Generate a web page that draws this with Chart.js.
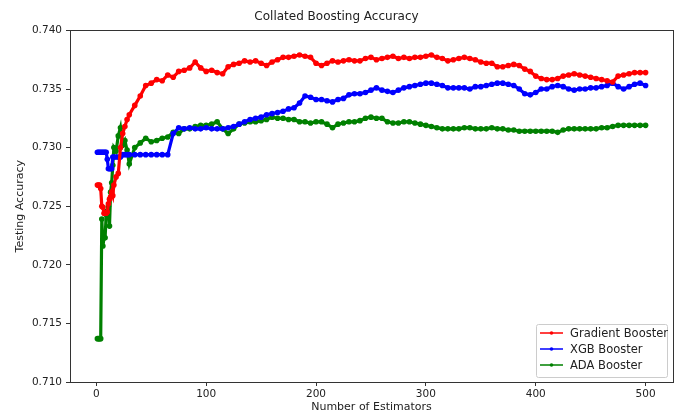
<!DOCTYPE html>
<html>
<head>
<meta charset="utf-8">
<script src="https://cdn.jsdelivr.net/npm/chart.js@4.4.1/dist/chart.umd.min.js"></script>
<style>
  html, body { margin: 0; padding: 0; background: #fff; }
  #wrap { width: 678px; height: 416px; }
</style>
</head>
<body>
<div id="wrap"><canvas id="boostChart" width="678" height="416"></canvas></div>
<script>
// number of estimators (x values)
const estimators = [
  1, 2, 3, 4, 5, 6, 7, 8, 9, 10, 11, 12, 13, 14, 15, 16, 18, 20, 22, 24, 26, 28, 30,
  35, 40, 45, 50, 55, 60, 65, 70, 75, 80, 85, 90, 95, 100,
  105, 110, 115, 120, 125, 130, 135, 140, 145, 150, 155, 160, 165, 170, 175, 180, 185, 190, 195, 200,
  205, 210, 215, 220, 225, 230, 235, 240, 245, 250, 255, 260, 265, 270, 275, 280, 285, 290, 295, 300,
  305, 310, 315, 320, 325, 330, 335, 340, 345, 350, 355, 360, 365, 370, 375, 380, 385, 390, 395, 400,
  405, 410, 415, 420, 425, 430, 435, 440, 445, 450, 455, 460, 465, 470, 475, 480, 485, 490, 495, 500
];

const gradientAcc = [
  0.7268, 0.7268, 0.7268, 0.7265, 0.7250, 0.7249, 0.7244, 0.7244, 0.7244, 0.7245, 0.7252, 0.7256, 0.7258, 0.7262, 0.7259, 0.7268, 0.7275, 0.7278, 0.7300, 0.7312, 0.7318, 0.7324, 0.7328,
  0.7336, 0.7344, 0.7353, 0.7355, 0.7358, 0.7357, 0.7362, 0.7360, 0.7365, 0.7366, 0.7368, 0.7373, 0.7368, 0.7365,
  0.7366, 0.7364, 0.7363, 0.7369, 0.7371, 0.7372, 0.7374, 0.7373, 0.7374, 0.7372, 0.7370, 0.7373, 0.7375, 0.7377, 0.7377, 0.7378, 0.7379, 0.7378, 0.7377, 0.7372,
  0.7370, 0.7372, 0.7374, 0.7373, 0.7374, 0.7375, 0.7374, 0.7374, 0.7376, 0.7377, 0.7375, 0.7376, 0.7377, 0.7378, 0.7376, 0.7377, 0.7376, 0.7377, 0.7377, 0.7378,
  0.7379, 0.7377, 0.7376, 0.7374, 0.7375, 0.7376, 0.7377, 0.7376, 0.7375, 0.7373, 0.7372, 0.7372, 0.7369, 0.7369, 0.7370, 0.7371, 0.7370, 0.7367, 0.7365, 0.7361,
  0.7359, 0.7358, 0.7358, 0.7359, 0.7361, 0.7362, 0.7363, 0.7362, 0.7361, 0.7360, 0.7359, 0.7358, 0.7357, 0.7356, 0.7361, 0.7362, 0.7363, 0.7364, 0.7364, 0.7364
];

const xgbAcc = [
  0.7296, 0.7296, 0.7296, 0.7296, 0.7296, 0.7296, 0.7296, 0.7296, 0.7296, 0.7290, 0.7282, 0.7282, 0.7282, 0.7282, 0.7292, 0.7292, 0.7292, 0.7292, 0.7292, 0.7294, 0.7294, 0.7294, 0.7294,
  0.7294, 0.7294, 0.7294, 0.7294, 0.7294, 0.7294, 0.7294, 0.7312, 0.7317, 0.7316, 0.7317, 0.7316, 0.7316, 0.7317,
  0.7316, 0.7316, 0.7316, 0.7317, 0.7318, 0.7320, 0.7322, 0.7324, 0.7325, 0.7326, 0.7328, 0.7329, 0.7330, 0.7331, 0.7333, 0.7334, 0.7338, 0.7344, 0.7343, 0.7341,
  0.7341, 0.7340, 0.7339, 0.7341, 0.7342, 0.7345, 0.7346, 0.7346, 0.7347, 0.7349, 0.7351, 0.7349, 0.7348, 0.7347, 0.7349, 0.7351, 0.7352, 0.7353, 0.7354, 0.7355,
  0.7355, 0.7354, 0.7353, 0.7351, 0.7351, 0.7351, 0.7351, 0.7350, 0.7352, 0.7352, 0.7353, 0.7354, 0.7355, 0.7355, 0.7354, 0.7353, 0.7350, 0.7346, 0.7345, 0.7347,
  0.7350, 0.7350, 0.7352, 0.7353, 0.7352, 0.7350, 0.7349, 0.7350, 0.7350, 0.7351, 0.7351, 0.7352, 0.7353, 0.7355, 0.7352, 0.7350, 0.7352, 0.7354, 0.7355, 0.7353
];

const adaAcc = [
  0.7137, 0.7137, 0.7137, 0.7137, 0.7239, 0.7216, 0.7223, 0.7223, 0.7243, 0.7246, 0.7250, 0.7233, 0.7262, 0.7270, 0.7285, 0.7300, 0.7297, 0.7310, 0.7317, 0.7302, 0.7306, 0.7298, 0.7286,
  0.7300, 0.7304, 0.7308, 0.7305, 0.7306, 0.7308, 0.7309, 0.7313, 0.7312, 0.7316, 0.7316, 0.7318, 0.7319, 0.7319,
  0.7320, 0.7322, 0.7316, 0.7312, 0.7316, 0.7320, 0.7321, 0.7322, 0.7322, 0.7323, 0.7324, 0.7326, 0.7325, 0.7325, 0.7324, 0.7324, 0.7322, 0.7322, 0.7321, 0.7322,
  0.7322, 0.7320, 0.7317, 0.7320, 0.7321, 0.7322, 0.7322, 0.7323, 0.7325, 0.7326, 0.7325, 0.7325, 0.7322, 0.7321, 0.7321, 0.7322, 0.7322, 0.7321, 0.7320, 0.7319,
  0.7318, 0.7317, 0.7316, 0.7316, 0.7316, 0.7316, 0.7317, 0.7317, 0.7316, 0.7316, 0.7316, 0.7317, 0.7316, 0.7316, 0.7315, 0.7315, 0.7314, 0.7314, 0.7314, 0.7314,
  0.7314, 0.7314, 0.7314, 0.7313, 0.7315, 0.7316, 0.7316, 0.7316, 0.7316, 0.7316, 0.7316, 0.7317, 0.7317, 0.7318, 0.7319, 0.7319, 0.7319, 0.7319, 0.7319, 0.7319
];

const xTicks = [0, 100, 200, 300, 400, 500];
const yTicks = [0.710, 0.715, 0.720, 0.725, 0.730, 0.735, 0.740];

const FONT = 'DejaVu Sans, sans-serif';

function toPoints(values) {
  return estimators.map((x, i) => ({ x, y: values[i] }));
}

function lineSet(label, values, color) {
  return {
    label,
    data: toPoints(values),
    borderColor: color,
    backgroundColor: color,
    borderWidth: 3.2,
    pointRadius: 2.8,
    pointBorderWidth: 0,
    pointBackgroundColor: color,
    tension: 0
  };
}

// frame around plot area (matplotlib spines)
const framePlugin = {
  id: 'frame',
  afterDraw(chart) {
    const { ctx, chartArea: a } = chart;
    ctx.save();
    ctx.strokeStyle = '#333';
    ctx.lineWidth = 1;
    ctx.strokeRect(Math.round(a.left) + 0.5, Math.round(a.top) + 0.5,
      Math.round(a.right - a.left), Math.round(a.bottom - a.top));
    ctx.restore();
  }
};

// legend box in lower right corner
const boxLegend = {
  id: 'boxLegend',
  afterDraw(chart) {
    const { ctx, chartArea: a } = chart;
    const sets = chart.data.datasets;
    const w = 131, rowH = 16, h = sets.length * rowH + 5;
    const x0 = a.right - 6 - w, y0 = a.bottom - 5 - h;
    ctx.save();
    ctx.fillStyle = 'rgba(255,255,255,0.8)';
    ctx.strokeStyle = '#ccc';
    ctx.lineWidth = 1;
    ctx.beginPath();
    ctx.roundRect(x0 + 0.5, y0 + 0.5, w, h, 2);
    ctx.fill();
    ctx.stroke();
    ctx.font = '11.5px ' + FONT;
    ctx.textBaseline = 'middle';
    sets.forEach((ds, i) => {
      const cy = y0 + 9 + i * rowH;
      ctx.strokeStyle = ds.borderColor;
      ctx.lineWidth = 1.5;
      ctx.beginPath();
      ctx.moveTo(x0 + 4, cy);
      ctx.lineTo(x0 + 27, cy);
      ctx.stroke();
      ctx.fillStyle = ds.borderColor;
      ctx.beginPath();
      ctx.arc(x0 + 15.5, cy, 1.8, 0, Math.PI * 2);
      ctx.fill();
      ctx.fillStyle = '#222';
      ctx.fillText(ds.label, x0 + 34, cy + 1);
    });
    ctx.restore();
  }
};

const ctx = document.getElementById('boostChart').getContext('2d');
new Chart(ctx, {
  type: 'line',
  data: {
    datasets: [
      lineSet('Gradient Booster', gradientAcc, '#ff0000'),
      lineSet('XGB Booster', xgbAcc, '#0000ff'),
      lineSet('ADA Booster', adaAcc, '#008000')
    ]
  },
  options: {
    responsive: false,
    animation: false,
    layout: { padding: { left: 0, right: 5, top: 0, bottom: 0 } },
    plugins: {
      legend: { display: false },
      tooltip: { enabled: false },
      title: {
        display: true,
        text: 'Collated Boosting Accuracy',
        color: '#222',
        font: { family: FONT, size: 12, weight: 'normal', lineHeight: 1.2 },
        padding: { top: 10, bottom: 6 }
      }
    },
    scales: {
      x: {
        type: 'linear',
        min: -23.95,
        max: 524.95,
        afterBuildTicks: axis => { axis.ticks = xTicks.map(v => ({ value: v })); },
        afterFit: s => { s.height = 34; },
        grid: { drawOnChartArea: false, drawTicks: true, tickLength: 4, color: '#333' },
        border: { display: true, color: '#333' },
        ticks: { color: '#222', font: { family: FONT, size: 10.5 }, padding: 2, maxRotation: 0 },
        title: {
          display: true,
          text: 'Number of Estimators',
          color: '#222',
          font: { family: FONT, size: 11 },
          padding: { top: 0, bottom: 2 }
        }
      },
      y: {
        type: 'linear',
        min: 0.710,
        max: 0.740,
        afterBuildTicks: axis => { axis.ticks = yTicks.map(v => ({ value: v })); },
        afterFit: s => { s.width = 70; },
        grid: { drawOnChartArea: false, drawTicks: true, tickLength: 4, color: '#333' },
        border: { display: true, color: '#333' },
        ticks: {
          color: '#222',
          font: { family: FONT, size: 10.5 },
          padding: 4,
          callback: v => v.toFixed(3)
        },
        title: {
          display: true,
          text: 'Testing Accuracy',
          color: '#222',
          font: { family: FONT, size: 11 },
          padding: { top: 14, bottom: 0 }
        }
      }
    }
  },
  plugins: [framePlugin, boxLegend]
});
</script>
</body>
</html>
